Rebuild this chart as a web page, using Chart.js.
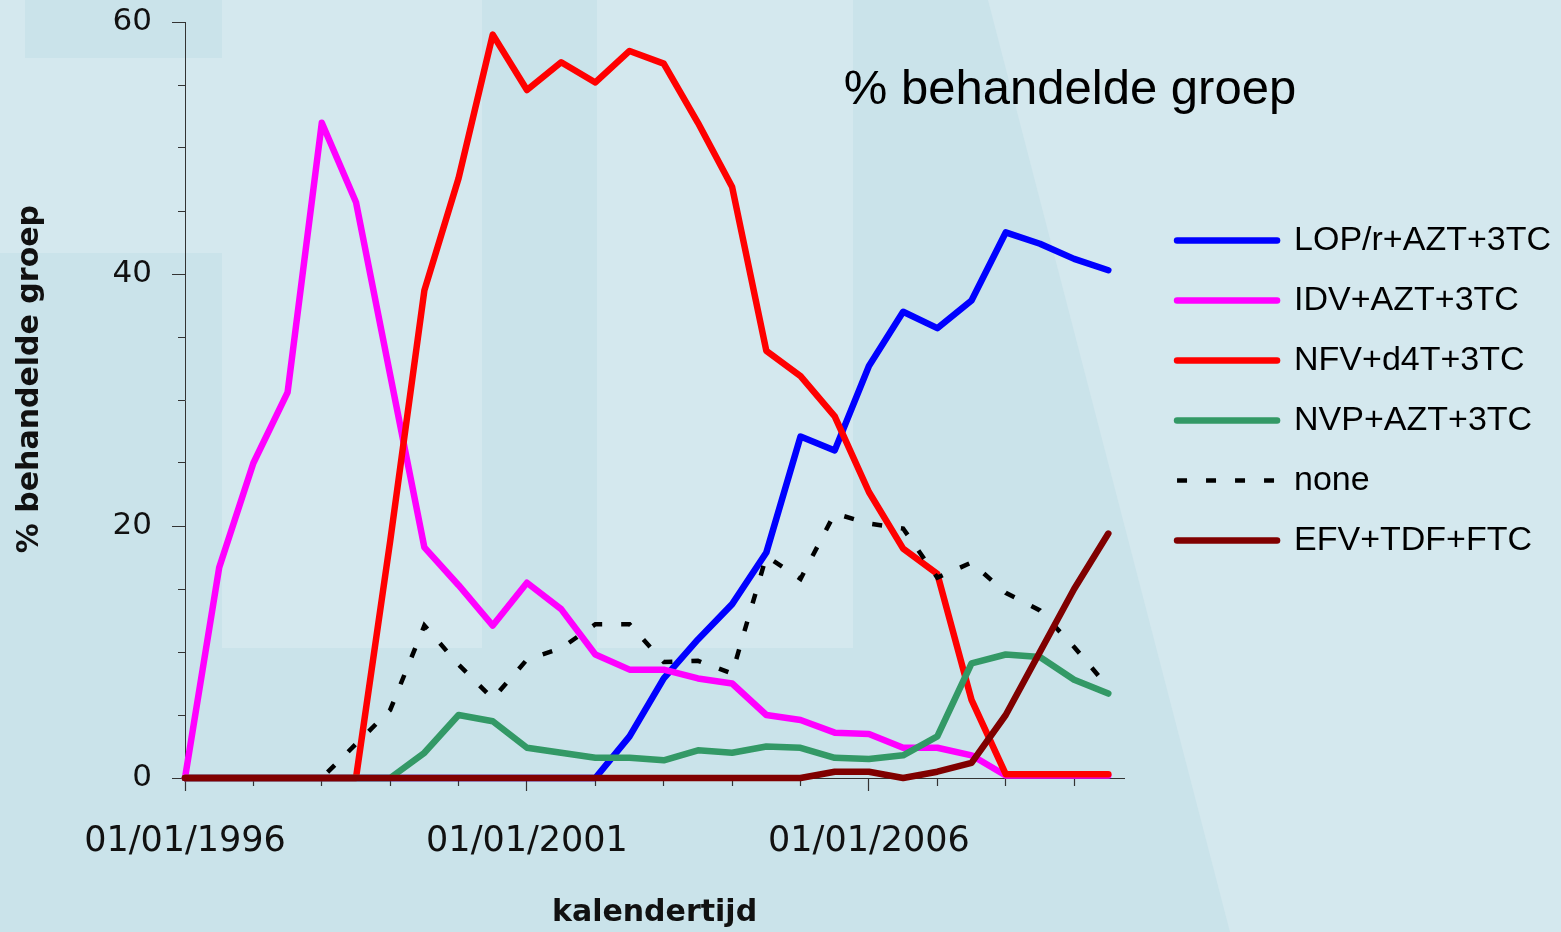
<!DOCTYPE html>
<html lang="nl">
<head>
<meta charset="UTF-8">
<title>% behandelde groep</title>
<script src="https://cdn.jsdelivr.net/npm/chart.js"></script>
<style>
  html, body { margin: 0; padding: 0; background: #cae3ea; }
  #wrap { width: 1561px; height: 932px; }
</style>
</head>
<body>
<div id="wrap"><canvas id="myChart"></canvas></div>
<script>
// half-yearly periods (decimal years)
const periods = [1996, 1996.5, 1997, 1997.5, 1998, 1998.5, 1999, 1999.5, 2000, 2000.5,
                 2001, 2001.5, 2002, 2002.5, 2003, 2003.5, 2004, 2004.5, 2005, 2005.5,
                 2006, 2006.5, 2007, 2007.5, 2008, 2008.5, 2009, 2009.5];

const lopAztTc = [0, 0, 0, 0, 0, 0, 0, 0, 0, 0, 0, 0, 0, 3.3, 7.9, 11.0, 13.8, 17.9, 27.1, 26.0,
                  32.7, 37.0, 35.7, 37.9, 43.3, 42.4, 41.2, 40.3];
const idvAztTc = [0, 16.7, 25.0, 30.6, 52.0, 45.7, 32.0, 18.3, 15.3, 12.1, 15.5, 13.4, 9.8, 8.6, 8.6, 7.9,
                  7.5, 5.0, 4.6, 3.6, 3.5, 2.4, 2.4, 1.8, 0.2, 0.2, 0.2, 0.2];
const nfvD4tTc = [0, 0, 0, 0, 0, 0, 18.8, 38.7, 47.6, 59.0, 54.6, 56.8, 55.2, 57.7, 56.7, 52.0, 46.9,
                  33.9, 31.9, 28.7, 22.7, 18.2, 16.2, 6.2, 0.3, 0.3, 0.3, 0.3];
const nvpAztTc = [0, 0, 0, 0, 0, 0, 0, 2.0, 5.0, 4.5, 2.4, 2.0, 1.6, 1.6, 1.4, 2.2, 2.0, 2.5, 2.4, 1.6,
                  1.5, 1.8, 3.3, 9.1, 9.8, 9.6, 7.8, 6.7];
const noneTreat = [0, 0, 0, 0, 0, 2.7, 5.4, 12.1, 9.0, 6.3, 9.4, 10.3, 12.2, 12.2, 9.2, 9.3, 8.3, 17.6,
                   15.8, 21.0, 20.2, 19.8, 15.9, 17.1, 14.7, 13.3, 10.4, 7.2];
const efvTdfFtc = [0, 0, 0, 0, 0, 0, 0, 0, 0, 0, 0, 0, 0, 0, 0, 0, 0, 0, 0, 0.5, 0.5, 0, 0.5, 1.2,
                   5.0, 10.0, 15.0, 19.4];

const seriesNames = ['LOP/r+AZT+3TC', 'IDV+AZT+3TC', 'NFV+d4T+3TC', 'NVP+AZT+3TC', 'none', 'EFV+TDF+FTC'];
const xTickYears = [1996, 1997, 1998, 1999, 2000, 2001, 2002, 2003, 2004, 2005, 2006, 2007, 2008, 2009];
const xLabelYears = [1996, 2001, 2006];
const yLabelValues = [0, 20, 40, 60];

const dejavu = "'DejaVu Sans', sans-serif";
const liberation = "'Liberation Sans', Arial, sans-serif";

function toPoints(values) {
    return values.map((v, i) => ({x: periods[i], y: v}));
}

function line(label, values, color, order) {
    return {
        label: label,
        data: toPoints(values),
        borderColor: color,
        backgroundColor: color,
        borderWidth: 6.5,
        borderCapStyle: 'round',
        borderJoinStyle: 'round',
        pointRadius: 0,
        tension: 0,
        fill: false,
        clip: false,
        order: order
    };
}

const noneSet = line(seriesNames[4], noneTreat, '#000000', 1);
noneSet.borderWidth = 4.5;
noneSet.borderDash = [10, 19];
noneSet.borderCapStyle = 'butt';
noneSet.borderJoinStyle = 'miter';

// watermark-like background blocks and the inner chart heading
const backdrop = {
    id: 'backdrop',
    beforeDraw(chart) {
        const ctx = chart.ctx;
        ctx.save();
        ctx.fillStyle = '#cae3ea';
        ctx.fillRect(0, 0, chart.width, chart.height);
        ctx.fillStyle = '#d4e8ee';
        ctx.fillRect(0, 0, 25, 58);
        ctx.fillRect(0, 58, 222, 195);
        ctx.fillRect(222, 0, 260, 648);
        ctx.fillRect(597, 0, 256, 648);
        ctx.beginPath();
        ctx.moveTo(988, 0);
        ctx.lineTo(1561, 0);
        ctx.lineTo(1561, 932);
        ctx.lineTo(1230, 932);
        ctx.closePath();
        ctx.fill();
        ctx.restore();
    },
    afterDraw(chart) {
        const ctx = chart.ctx;
        ctx.save();
        ctx.fillStyle = '#000000';
        ctx.font = '49px ' + liberation;
        ctx.textAlign = 'center';
        ctx.textBaseline = 'alphabetic';
        ctx.fillText('% behandelde groep', 1070, 104);
        ctx.restore();
    }
};

new Chart(document.getElementById('myChart'), {
    type: 'line',
    data: {
        datasets: [
            line(seriesNames[0], lopAztTc, '#0000ff', 5),
            line(seriesNames[1], idvAztTc, '#ff00ff', 4),
            line(seriesNames[2], nfvD4tTc, '#ff0000', 3),
            line(seriesNames[3], nvpAztTc, '#339966', 2),
            noneSet,
            line(seriesNames[5], efvTdfFtc, '#800000', 0)
        ]
    },
    options: {
        responsive: true,
        maintainAspectRatio: false,
        animation: false,
        events: [],
        layout: {padding: {top: 22, right: 0, bottom: 0, left: 0}},
        plugins: {
            tooltip: {enabled: false},
            legend: {
                position: 'right',
                fullSize: false,
                maxWidth: 460,
                title: {display: true, text: '', font: {size: 1}, padding: {top: -20, bottom: 0}},
                labels: {
                    usePointStyle: true,
                    pointStyleWidth: 100,
                    padding: 26,
                    color: '#000000',
                    font: {family: liberation, size: 34},
                    generateLabels: chart => chart.data.datasets.map((ds, i) => ({
                        text: ds.label,
                        fillStyle: ds.borderColor,
                        strokeStyle: ds.borderColor,
                        lineWidth: ds.borderWidth,
                        lineDash: ds.borderDash || [],
                        lineCap: ds.borderCapStyle,
                        pointStyle: 'line',
                        fontColor: '#000000',
                        hidden: false,
                        datasetIndex: i
                    }))
                }
            }
        },
        scales: {
            x: {
                type: 'linear',
                min: 1996,
                max: 2009.73,
                afterBuildTicks(scale) {
                    scale.ticks = xTickYears.map(v => ({value: v}));
                },
                afterFit(scale) {
                    scale.height = 154;
                },
                border: {display: true, color: '#333333', width: 1},
                grid: {
                    drawOnChartArea: false,
                    drawTicks: true,
                    tickLength: 13,
                    tickColor: '#333333',
                    tickWidth: 1.2,
                    tickBorderDash: c => xLabelYears.includes(c.tick.value) ? [] : [7, 40]
                },
                ticks: {
                    autoSkip: false,
                    maxRotation: 0,
                    minRotation: 0,
                    padding: 30,
                    color: '#111111',
                    font: {family: dejavu, size: 35},
                    callback: v => xLabelYears.includes(v) ? '01/01/' + v : ''
                },
                title: {
                    display: true,
                    text: 'kalendertijd',
                    color: '#111111',
                    font: {family: dejavu, size: 30, weight: 'bold'},
                    padding: {top: 0, bottom: 1}
                }
            },
            y: {
                min: 0,
                max: 60,
                afterFit(scale) {
                    scale.width = 185;
                },
                border: {display: true, color: '#333333', width: 1},
                grid: {
                    drawOnChartArea: false,
                    drawTicks: true,
                    tickLength: 30,
                    tickColor: '#333333',
                    tickWidth: 1.2,
                    // long marks at labelled values, short ones in between
                    tickBorderDash: c => yLabelValues.includes(c.tick.value) ? [0, 17, 40] : [0, 23, 40]
                },
                ticks: {
                    stepSize: 5,
                    padding: 3,
                    color: '#111111',
                    font: {family: dejavu, size: 31},
                    callback: v => yLabelValues.includes(v) ? String(v) : ''
                },
                title: {
                    display: true,
                    text: '    % behandelde groep',
                    color: '#111111',
                    font: {family: dejavu, size: 30, weight: 'bold'},
                    padding: {top: 12, bottom: 0}
                }
            },
            // empty spacer between plot and legend
            gap: {
                type: 'linear',
                position: 'right',
                display: true,
                grid: {display: false},
                border: {display: false},
                ticks: {display: false},
                afterFit(scale) {
                    scale.width = 27;
                }
            }
        }
    },
    plugins: [backdrop]
});
</script>
</body>
</html>
